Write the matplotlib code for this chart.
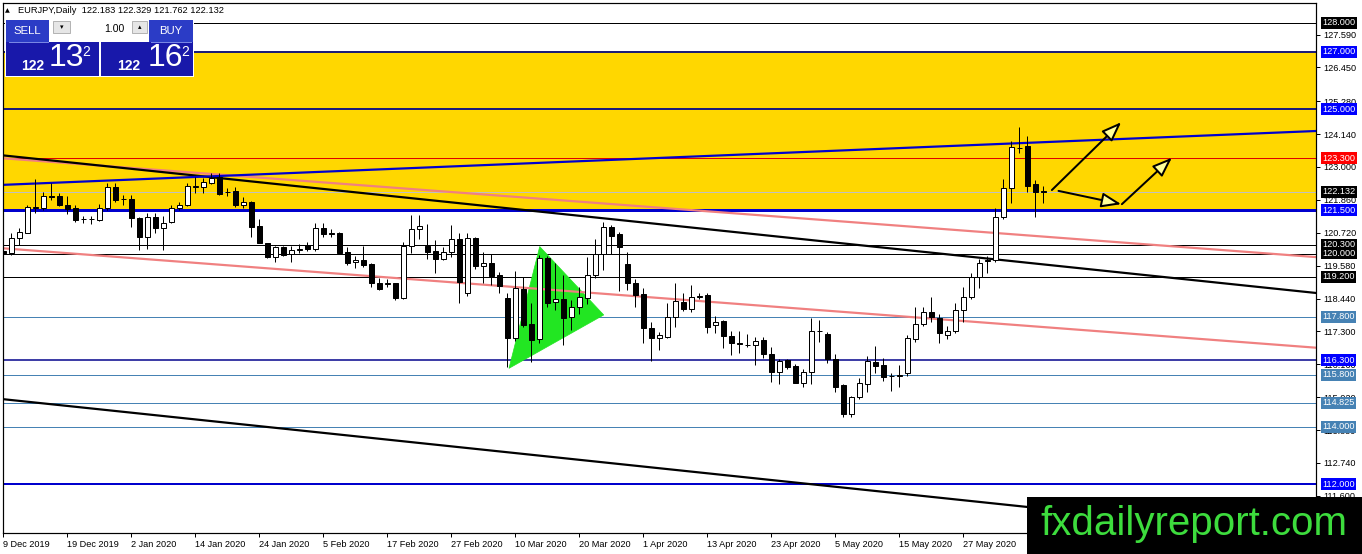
import numpy as np
import matplotlib
matplotlib.use("Agg")
import matplotlib.pyplot as plt
from matplotlib.patches import Rectangle, Polygon
import matplotlib.transforms as mtrans

plt.rcParams['font.family'] = ['Liberation Sans', 'DejaVu Sans']

# ---------------- data ----------------
symbol_title = "EURJPY,Daily  122.183 122.329 121.762 122.132"

opens = [120.10, 120.01, 120.53, 120.72, 121.58, 121.57, 121.98, 121.99, 121.67, 121.59,
         121.19, 121.21, 121.16, 121.57, 122.32, 121.88, 121.88, 121.24, 120.56, 121.25,
         120.87, 121.08, 121.57, 121.67, 122.32, 122.29, 122.46, 122.64, 122.12, 122.17,
         121.67, 121.80, 120.95, 120.35, 119.89, 120.24, 119.97, 120.13, 120.30, 120.14,
         120.87, 120.70, 120.72, 120.06, 119.69, 119.77, 119.64, 118.97, 118.96, 118.97,
         118.47, 120.27, 120.84, 120.27, 120.09, 119.81, 120.04, 120.50, 118.62, 120.55,
         119.58, 119.68, 119.25, 118.47, 117.06, 118.76, 117.54, 117.02, 119.83, 118.31,
         118.42, 117.79, 118.13, 118.45, 119.24, 120.00, 120.91, 120.68, 119.64, 118.97,
         118.60, 117.41, 117.06, 117.12, 117.79, 118.33, 118.07, 118.49, 118.56, 117.51,
         117.67, 117.14, 116.90, 116.84, 116.82, 117.00, 116.51, 115.88, 116.31, 116.10,
         115.52, 115.90, 117.30, 117.21, 116.33, 115.44, 114.44, 115.02, 115.48, 116.25,
         116.14, 115.74, 115.77, 115.87, 117.04, 117.56, 117.98, 117.75, 117.17, 117.33,
         118.04, 118.48, 119.17, 119.74, 119.77, 121.28, 122.26, 123.66, 123.73, 122.41,
         122.183]
highs = [120.20, 120.70, 120.87, 121.68, 122.57, 122.14, 122.43, 122.08, 121.99, 121.68,
         121.30, 121.30, 121.72, 122.45, 122.43, 122.03, 122.03, 121.26, 121.42, 121.42,
         121.30, 121.68, 121.80, 122.45, 122.66, 122.61, 122.78, 122.78, 122.26, 122.32,
         121.95, 121.82, 121.18, 120.37, 120.26, 120.26, 120.26, 120.33, 120.41, 121.05,
         121.05, 120.84, 120.74, 120.24, 119.91, 120.26, 119.66, 119.14, 119.10, 118.99,
         120.41, 121.33, 121.33, 121.02, 120.47, 120.24, 120.99, 120.70, 120.70, 120.57,
         120.06, 119.97, 119.37, 118.62, 119.40, 119.20, 118.27, 119.95, 119.91, 119.66,
         119.25, 118.39, 118.85, 119.89, 120.49, 121.10, 120.99, 120.76, 120.06, 119.10,
         118.79, 117.64, 117.29, 118.27, 118.97, 118.62, 118.91, 118.64, 118.62, 117.83,
         117.69, 117.33, 117.33, 117.21, 117.12, 117.12, 116.75, 116.33, 116.33, 116.17,
         115.98, 117.75, 117.70, 117.29, 116.52, 115.46, 115.06, 115.67, 116.45, 116.79,
         116.37, 115.85, 116.14, 117.18, 118.13, 118.16, 118.48, 117.90, 117.49, 118.27,
         118.85, 119.31, 119.80, 119.91, 121.57, 122.57, 123.91, 124.40, 124.07, 122.55,
         122.329]
lows = [119.98, 119.95, 120.29, 120.70, 121.39, 121.50, 121.85, 121.65, 121.37, 121.10,
        121.05, 121.02, 121.12, 121.52, 121.80, 121.68, 120.91, 120.12, 120.14, 120.72,
        120.12, 121.05, 121.52, 121.65, 122.11, 122.11, 122.40, 122.04, 121.99, 121.62,
        121.57, 120.56, 120.35, 119.83, 119.72, 119.90, 119.72, 120.01, 120.10, 120.10,
        120.58, 120.56, 120.00, 119.60, 119.49, 119.54, 118.83, 118.72, 118.83, 118.39,
        118.42, 120.03, 120.49, 119.80, 119.34, 119.76, 119.89, 118.30, 118.53, 119.45,
        118.97, 118.91, 118.64, 116.08, 116.95, 117.45, 116.25, 116.89, 118.15, 118.05,
        116.83, 117.35, 117.90, 118.25, 119.15, 119.43, 120.00, 118.71, 118.75, 118.13,
        116.89, 116.29, 116.66, 117.06, 117.44, 118.00, 117.98, 118.41, 117.23, 117.26,
        116.71, 116.48, 116.54, 116.75, 116.14, 116.37, 115.56, 115.48, 115.98, 115.50,
        115.36, 115.48, 116.94, 116.19, 115.21, 114.34, 114.34, 114.95, 115.21, 115.87,
        115.59, 115.25, 115.38, 115.75, 116.94, 117.49, 117.64, 116.91, 117.03, 117.26,
        117.64, 118.41, 118.79, 119.34, 119.72, 121.18, 121.76, 123.47, 122.14, 121.25,
        121.762]
closes = [120.02, 120.53, 120.76, 121.62, 121.61, 121.99, 121.95, 121.67, 121.53, 121.16,
          121.21, 121.19, 121.57, 122.29, 121.85, 121.90, 121.22, 120.58, 121.25, 120.87,
          121.07, 121.57, 121.68, 122.34, 122.34, 122.47, 122.61, 122.06, 122.14, 121.67,
          121.78, 120.93, 120.38, 119.89, 120.24, 119.95, 120.12, 120.15, 120.14, 120.87,
          120.68, 120.69, 120.03, 119.66, 119.77, 119.60, 118.97, 118.77, 118.98, 118.45,
          120.26, 120.84, 120.95, 120.04, 119.81, 120.04, 120.49, 119.02, 120.55, 119.58,
          119.66, 119.22, 118.87, 117.06, 118.79, 117.52, 117.00, 119.83, 118.30, 118.41,
          117.75, 118.13, 118.50, 119.24, 120.00, 120.91, 120.62, 120.21, 118.99, 118.56,
          117.41, 117.06, 117.16, 117.79, 118.37, 118.07, 118.48, 118.51, 117.46, 117.64,
          117.14, 116.89, 116.88, 116.82, 116.98, 116.52, 115.88, 116.29, 116.08, 115.52,
          115.90, 117.31, 117.32, 116.33, 115.36, 114.44, 115.04, 115.50, 116.29, 116.11,
          115.71, 115.76, 115.79, 117.06, 117.56, 117.98, 117.79, 117.26, 117.33, 118.04,
          118.48, 119.17, 119.68, 119.76, 121.28, 122.26, 123.68, 123.64, 122.34, 122.14,
          122.132]

date_ticks = [0, 8, 16, 24, 32, 40, 48, 56, 64, 72, 80, 88, 96, 104, 112, 120]
date_labels = ["9 Dec 2019", "19 Dec 2019", "2 Jan 2020", "14 Jan 2020", "24 Jan 2020",
               "5 Feb 2020", "17 Feb 2020", "27 Feb 2020", "10 Mar 2020", "20 Mar 2020",
               "1 Apr 2020", "13 Apr 2020", "23 Apr 2020", "5 May 2020", "15 May 2020",
               "27 May 2020"]

price_ticks = [127.59, 126.45, 125.28, 124.14, 123.00, 121.86, 120.72, 119.58,
               118.44, 117.30, 116.16, 115.02, 113.88, 112.74, 111.60]

h_levels = [128.0, 127.0, 125.0, 123.3, 121.5, 120.3, 120.0, 119.2,
            117.8, 116.3, 115.8, 114.825, 114.0, 112.0]
h_line_colors = ['black', '#1c1c78', '#1c1c78', '#e00000', '#0000cd', 'black', 'black', 'black',
                 '#4682b4', '#00008b', '#4682b4', '#4682b4', '#4682b4', '#0000cd']
h_line_px = [1, 2, 2, 1, 3, 1, 1, 1, 1, 1.5, 1, 1, 1, 2]
h_label_colors = ['black', '#0000ff', '#0000ff', '#ff0000', '#0000ff', 'black', 'black', 'black',
                  '#4682b4', '#0000ff', '#4682b4', '#4682b4', '#4682b4', '#0000ff']
bid_price = 122.132
zone = (121.5, 127.0)

blue_trend = [(0, 122.38), (160, 124.20)]
black_trend_upper = [(0, 123.40), (160, 118.75)]
black_trend_lower = [(0, 114.95), (160, 110.28)]
pink_trend_upper = [(0, 123.30), (160, 119.96)]
pink_trend_lower = [(0, 120.18), (160, 116.82)]
triangle_pts = [(63.2, 116.02), (67.04, 120.24), (75.04, 117.87)]
arrow_paths = [((131.05, 122.20), (139.71, 124.55)),
               ((131.88, 122.17), (139.71, 121.71)),
               ((139.80, 121.71), (146.05, 123.32))]

sell_parts = ("122", "13", "2")
buy_parts = ("122", "16", "2")
lot_size = "1.00"
watermark = "fxdailyreport.com"

# ---------------- figure ----------------
W, H, DPI = 1362, 554, 100
PX = 72.0 / DPI  # points per pixel
fig = plt.figure(figsize=(W / DPI, H / DPI), dpi=DPI)
fig.patch.set_facecolor('white')
ax = fig.add_axes([3 / W, 1 - 533 / H, 1313 / W, 530 / H])
ax.set_xlim(-0.04, 164.06)
ax.set_ylim(110.312, 128.683)
ax.set_facecolor('white')

ax.axhspan(zone[0], zone[1], color='#ffd700', lw=0, zorder=0)
ax.axhline(bid_price, color='#c0c0c0', lw=1 * PX, zorder=1)
for lv, col, w in zip(h_levels, h_line_colors, h_line_px):
    ax.axhline(lv, color=col, lw=w * PX, zorder=1.2)

ax.add_patch(Polygon(triangle_pts, closed=True, fc='#22e622', ec='#22e622', lw=0.5, zorder=1.4))
ax.axline(*pink_trend_upper, color='#f08080', lw=2.2 * PX, zorder=1.5)
ax.axline(*pink_trend_lower, color='#f08080', lw=2.2 * PX, zorder=1.5)
ax.axline(*black_trend_upper, color='black', lw=2.2 * PX, zorder=1.6)
ax.axline(*black_trend_lower, color='black', lw=2.2 * PX, zorder=1.6)
ax.axline(*blue_trend, color='#0000cd', lw=2.2 * PX, zorder=1.6)

o = np.array(opens); hi = np.array(highs); lo = np.array(lows); c = np.array(closes)
x = np.arange(len(o))
ax.vlines(x, lo, hi, color='black', lw=1 * PX, zorder=3)
up = c >= o
ax.bar(x, np.abs(c - o), bottom=np.minimum(o, c), width=0.62,
       color=np.where(up, 'white', 'black'), edgecolor='black', linewidth=1 * PX, zorder=4)

for (p0, p1) in arrow_paths:
    ax.annotate('', xy=p1, xytext=p0,
                arrowprops=dict(arrowstyle='-|>,head_length=1.2,head_width=0.45',
                                fc='#ffff9a', ec='black', lw=2 * PX,
                                shrinkA=0, shrinkB=0), zorder=5)

# axes / ticks
ax.yaxis.tick_right()
ax.set_yticks(price_ticks)
ax.set_yticklabels([f"{p:.3f}" for p in price_ticks])
ax.tick_params(axis='y', direction='out', length=3 * PX * 1.4, width=1 * PX, pad=2.5 * PX * 1.4,
               labelsize=6.6, colors='black')
ax.set_xticks(date_ticks)
ax.set_xticklabels(date_labels)
ax.tick_params(axis='x', direction='out', length=3, width=1 * PX, pad=2, labelsize=6.6)
for t in ax.get_xticklabels():
    t.set_ha('left')
for s in ax.spines.values():
    s.set_linewidth(1.2 * PX)
    s.set_color('black')

trans = mtrans.blended_transform_factory(ax.transAxes, ax.transData)
for lv, bg in zip(h_levels, h_label_colors):
    ax.text(1.0046, lv, f"{lv:.3f}", transform=trans, ha='left', va='center', fontsize=6.6,
            color='white', bbox=dict(boxstyle='square,pad=0.16', fc=bg, ec='none'),
            clip_on=False, zorder=6)
ax.text(1.0046, bid_price, f"{bid_price:.3f}", transform=trans, ha='left', va='center',
        fontsize=6.6, color='white', bbox=dict(boxstyle='square,pad=0.16', fc='black', ec='none'),
        clip_on=False, zorder=6)

# ---------------- overlay (header panel, watermark) ----------------
ov = fig.add_axes([0, 0, 1, 1], zorder=10)
ov.set_xlim(0, W)
ov.set_ylim(H, 0)
ov.axis('off')

ov.text(7.5, 10.5, '\u25b2', fontsize=4.5, ha='center', va='center', family=['DejaVu Sans'])
ov.text(18, 10.5, symbol_title, fontsize=6.7, ha='left', va='center')

ov.add_patch(Rectangle((5, 19), 189, 58, fc='white', ec='none'))
btn_blue = '#2b3cc6'
box_blue = '#1818aa'
ov.add_patch(Rectangle((6, 20), 43, 22, fc=btn_blue, ec='none'))
ov.add_patch(Rectangle((149, 20), 44, 22, fc=btn_blue, ec='none'))
ov.add_patch(Rectangle((6, 42), 93, 34, fc=box_blue, ec='none'))
ov.add_patch(Rectangle((101, 42), 92, 34, fc=box_blue, ec='none'))
ov.plot([9, 48], [41.5, 41.5], color='#7c8ae6', lw=0.7)
ov.plot([151, 191], [41.5, 41.5], color='#7c8ae6', lw=0.7)
ov.add_patch(Rectangle((53, 21), 17, 12, fc='#e6e6e6', ec='#a8a8a8', lw=0.6))
ov.add_patch(Rectangle((132, 21), 15, 12, fc='#e6e6e6', ec='#a8a8a8', lw=0.6))
ov.text(61.5, 27, '\u25be', fontsize=5, ha='center', va='center', family=['DejaVu Sans'])
ov.text(139.5, 27, '\u25b4', fontsize=5, ha='center', va='center', family=['DejaVu Sans'])
ov.text(27.5, 31, 'SELL', fontsize=8.2, color='white', ha='center', va='center')
ov.text(171, 31, 'BUY', fontsize=8.2, color='white', ha='center', va='center')
ov.text(124, 29, lot_size, fontsize=7.6, color='black', ha='right', va='center')

for (small, big, sup), xs, xb, xp in [(sell_parts, 32.5, 66, 86), (buy_parts, 129, 165, 185.5)]:
    ov.text(xs, 66.5, small, fontsize=10, color='white', ha='center', va='center', weight='bold')
    ov.text(xb, 58.5, big, fontsize=23, color='white', ha='center', va='center')
    ov.text(xp, 52, sup, fontsize=10, color='white', ha='center', va='center')

ov.add_patch(Rectangle((1027, 497), W - 1027, H - 497, fc='black', ec='none'))
ov.text(1194, 524, watermark, fontsize=29, color='#3ddc3d', ha='center', va='center')

fig.savefig('out.png', dpi=DPI)
